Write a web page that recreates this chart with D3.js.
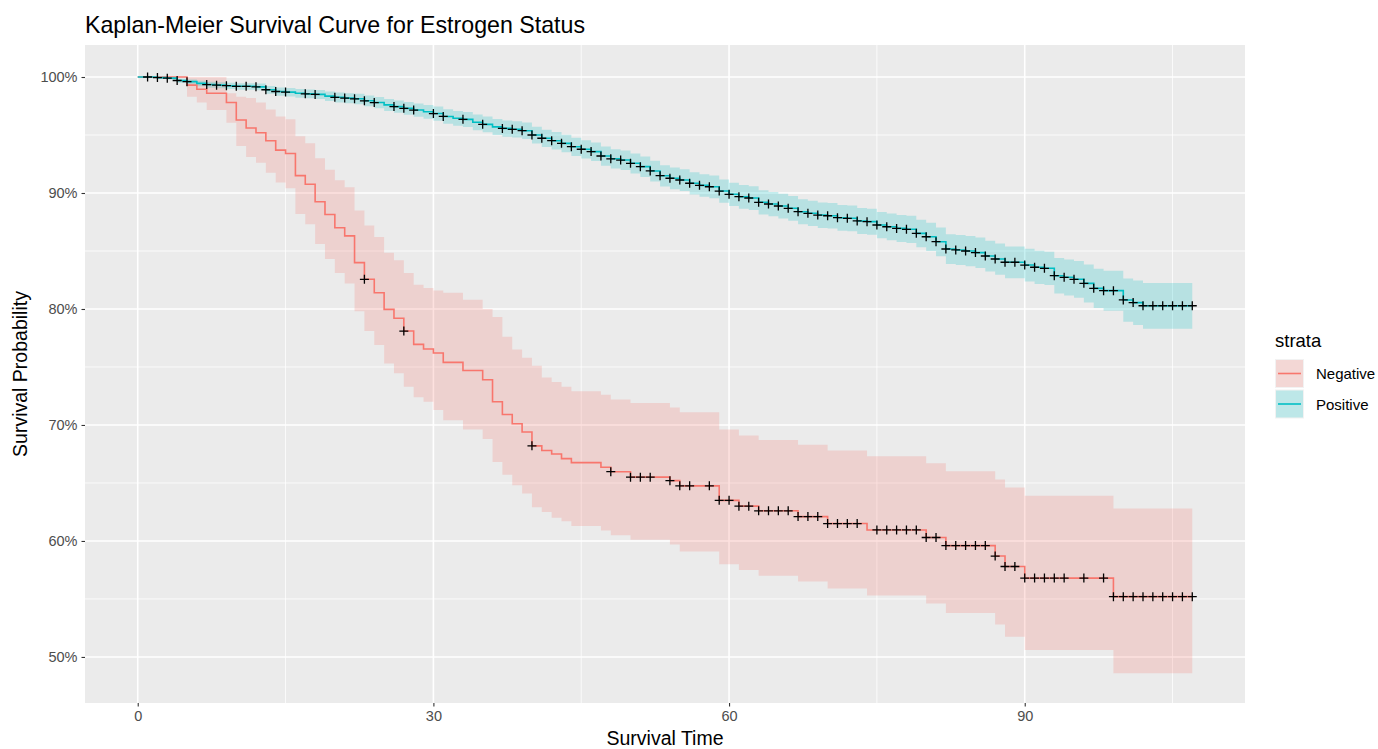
<!DOCTYPE html>
<html>
<head>
<meta charset="utf-8">
<script src="https://cdn.jsdelivr.net/npm/d3@7"></script>
<style>
  body { margin: 0; background: #fff; }
  text { font-family: "Liberation Sans", Arial, Helvetica, sans-serif; }
</style>
</head>
<body>
<div id="chart"></div>
<script>
// Kaplan-Meier survival by estrogen status

// ---- Negative group: step times, survival (%), CI bounds, censor times
var negTime  = [0,5,6,7,9,10,11,12,13,14,15,16,17,18,19,20,21,22,23,24,25,26,27,28,29,30,31,33,35,36,37,38,39,40,41,42,43,44,47,48,50,54,55,59,61,63,67,70,74,80,82,87,88,90,99,107];
var negSurv  = [100,99.3,98.94,98.6,97.8,96.3,95.6,95.2,94.5,93.7,93.4,91.5,90.75,89.25,88.15,87.0,86.3,84.0,82.56,81.4,79.97,79.2,78.1,76.95,76.55,76.2,75.4,74.7,73.9,72.0,70.9,70.1,69.4,68.2,67.8,67.5,67.1,66.75,66.35,65.97,65.5,65.2,64.75,63.5,63.0,62.6,62.1,61.5,60.95,60.3,59.6,58.7,57.8,56.8,55.2,55.2];
var negUpper = [100,100,100,100,98.6,98.3,98.2,97.8,97.2,96.6,96.35,94.9,94.3,93.0,92.0,91.1,90.5,88.5,87.2,86.2,84.85,84.2,83.1,82.1,81.8,81.6,81.4,80.8,80.0,79.3,77.6,76.5,75.8,75.1,74.1,73.7,73.3,72.9,72.6,72.2,71.9,71.5,71.1,69.6,69.1,68.7,68.3,67.8,67.3,66.7,66.0,65.3,64.6,63.9,62.8,62.8];
var negLower = [100,98.3,97.8,97.15,96.06,94.05,93.1,92.6,91.75,90.9,90.4,88.2,87.3,85.6,84.3,83.1,82.2,79.8,78.1,76.9,75.3,74.45,73.3,72.4,72.0,71.3,70.4,69.6,68.8,66.8,65.7,64.8,64.1,62.9,62.5,62.0,61.7,61.3,60.9,60.5,60.1,59.7,59.1,58.0,57.5,57.0,56.5,55.9,55.3,54.6,53.8,52.8,51.75,50.6,48.6,48.6];
var negCensor = [23,27,40,48,50,51,52,54,55,56,58,59,60,61,62,63,64,65,66,67,68,69,70,71,72,73,75,76,77,78,79,80,81,82,83,84,85,86,87,88,89,90,91,92,93,94,96,98,99,100,101,102,103,104,105,106,107];

// ---- Positive group
var posTime  = [0,1,2,3,4,5,6,7,8,9,10,11,12,13,14,15,16,17,18,19,20,21,22,23,24,25,26,27,28,29,30,31,32,33,34,35,36,37,38,39,40,41,42,43,44,45,46,47,48,49,50,51,52,53,54,55,56,57,58,59,60,61,62,63,64,65,66,67,68,69,70,71,72,73,74,75,76,77,78,79,80,81,82,83,84,85,86,87,88,89,90,91,92,93,94,95,96,97,98,99,100,101,102,103,104,105,106,107];
var posSurv  = [100,100,99.95,99.9,99.7,99.6,99.45,99.35,99.3,99.25,
  99.2,99.2,99.15,98.9,98.75,98.7,98.6,98.55,98.5,98.35,
  98.25,98.18,98.12,97.95,97.8,97.6,97.45,97.3,97.15,97.0,
  96.85,96.6,96.45,96.35,96.1,95.92,95.7,95.57,95.49,95.37,
  95.0,94.72,94.51,94.28,93.99,93.77,93.57,93.19,92.95,92.84,
  92.56,92.27,91.9,91.49,91.27,91.12,90.84,90.66,90.54,90.17,
  89.89,89.68,89.57,89.2,89.05,88.88,88.68,88.39,88.25,88.1,
  88.04,87.87,87.82,87.59,87.53,87.24,87.09,86.95,86.87,86.52,
  86.23,85.8,85.17,85.09,85.0,84.86,84.57,84.31,84.03,84.03,
  83.79,83.6,83.51,82.87,82.73,82.56,82.21,81.78,81.58,81.58,
  80.78,80.55,80.28,80.28,80.28,80.28,80.28,80.28];
var posUpper = [100,100,100,99.98,99.85,99.78,99.67,99.59,99.55,99.51,
  99.47,99.47,99.43,99.22,99.09,99.05,98.96,98.92,98.88,98.75,
  98.67,98.61,98.56,98.41,98.28,98.1,97.97,97.84,97.71,97.58,
  97.45,97.22,97.08,96.99,96.76,96.59,96.38,96.26,96.18,96.07,
  95.72,95.45,95.25,95.03,94.76,94.55,94.36,94.0,93.77,93.67,
  93.41,93.14,92.79,92.4,92.19,92.05,91.79,91.62,91.51,91.16,
  90.89,90.69,90.59,90.23,90.09,89.93,89.74,89.46,89.33,89.19,
  89.13,88.97,88.92,88.7,88.65,88.37,88.23,88.1,88.03,87.7,
  87.43,87.03,86.44,86.37,86.29,86.16,85.89,85.65,85.39,85.39,
  85.19,85.02,84.94,84.39,84.27,84.13,83.83,83.46,83.29,83.29,
  82.63,82.45,82.23,82.23,82.23,82.23,82.23,82.23];
var posLower = [100,100,99.85,99.78,99.5,99.38,99.2,99.08,99.03,98.97,
  98.91,98.91,98.85,98.56,98.39,98.33,98.22,98.16,98.1,97.93,
  97.81,97.73,97.66,97.47,97.3,97.08,96.91,96.74,96.57,96.4,
  96.23,95.96,95.8,95.69,95.42,95.23,95.0,94.86,94.78,94.65,
  94.26,93.97,93.75,93.51,93.2,92.97,92.76,92.36,92.11,91.99,
  91.69,91.38,90.99,90.56,90.33,90.17,89.87,89.68,89.55,89.16,
  88.87,88.65,88.53,88.15,87.99,87.81,87.6,87.3,87.15,86.99,
  86.93,86.75,86.7,86.46,86.39,86.09,85.93,85.78,85.69,85.32,
  85.01,84.55,83.88,83.79,83.69,83.54,83.23,82.95,82.65,82.65,
  82.37,82.16,82.06,81.33,81.17,80.97,80.57,80.08,79.85,79.85,
  78.9,78.62,78.3,78.3,78.3,78.3,78.3,78.3];
var posCensor = [1,2,3,4,5,7,8,9,10,11,12,13,14,15,17,18,20,21,22,23,24,26,27,28,30,31,33,35,37,38,39,40,41,42,43,44,45,46,47,48,49,50,51,52,53,54,55,56,57,58,59,60,61,62,63,64,65,66,67,68,69,70,71,72,73,74,75,76,77,78,79,80,81,82,83,84,85,86,87,88,89,90,91,92,93,94,95,96,97,98,99,100,101,102,103,104,105,106,107];

var xTicks = [0, 30, 60, 90];
var xMinor = [15, 45, 75, 105];
var yTicks = [50, 60, 70, 80, 90, 100];
var yMinor = [55, 65, 75, 85, 95];
var groups = ["Negative", "Positive"];
var colors = ["#F8766D", "#00BFC4"];

// layout
var W = 1378, H = 749;
var margin = {top: 45, right: 133, bottom: 46, left: 85},
    width = W - margin.left - margin.right,
    height = H - margin.top - margin.bottom;

var svg = d3.select("#chart").append("svg")
    .attr("width", W)
    .attr("height", H);

var g = svg.append("g")
    .attr("transform", `translate(${margin.left}, ${margin.top})`);

var x = d3.scaleLinear().domain([-5.35, 112.35]).range([0, width]);
var y = d3.scaleLinear().domain([46.03, 102.76]).range([height, 0]);

// panel + grid
g.append("rect").attr("width", width).attr("height", height).attr("fill", "#EBEBEB");

g.selectAll(".xminor").data(xMinor).enter().append("line")
    .attr("x1", d => x(d)).attr("x2", d => x(d))
    .attr("y1", 0).attr("y2", height)
    .attr("stroke", "#fff").attr("stroke-width", 0.8);
g.selectAll(".yminor").data(yMinor).enter().append("line")
    .attr("y1", d => y(d)).attr("y2", d => y(d))
    .attr("x1", 0).attr("x2", width)
    .attr("stroke", "#fff").attr("stroke-width", 0.8);
g.selectAll(".xmajor").data(xTicks).enter().append("line")
    .attr("x1", d => x(d)).attr("x2", d => x(d))
    .attr("y1", 0).attr("y2", height)
    .attr("stroke", "#fff").attr("stroke-width", 1.6);
g.selectAll(".ymajor").data(yTicks).enter().append("line")
    .attr("y1", d => y(d)).attr("y2", d => y(d))
    .attr("x1", 0).attr("x2", width)
    .attr("stroke", "#fff").attr("stroke-width", 1.6);

// build series
function makeSeries(t, s, lo, hi) {
    return t.map(function (d, i) { return {t: d, s: s[i], lo: lo[i], hi: hi[i]}; });
}
var series = [
    makeSeries(negTime, negSurv, negLower, negUpper),
    makeSeries(posTime, posSurv, posLower, posUpper)
];
var censors = [negCensor, posCensor];

var band = d3.area()
    .curve(d3.curveStepAfter)
    .x(d => x(d.t))
    .y0(d => y(d.lo))
    .y1(d => y(d.hi));
var step = d3.line()
    .curve(d3.curveStepAfter)
    .x(d => x(d.t))
    .y(d => y(d.s));

series.forEach(function (data, i) {
    g.append("path").datum(data)
        .attr("d", band)
        .attr("fill", colors[i])
        .attr("fill-opacity", 0.22);
});
series.forEach(function (data, i) {
    g.append("path").datum(data)
        .attr("d", step)
        .attr("fill", "none")
        .attr("stroke", colors[i])
        .attr("stroke-width", 1.6);
});

// censor marks: survival value at each censor time
var bis = d3.bisector(d => d.t).right;
series.forEach(function (data, i) {
    g.selectAll(".cens" + i).data(censors[i]).enter().append("path")
        .attr("transform", function (t) {
            var k = bis(data, t) - 1;
            return `translate(${x(t)}, ${y(data[k].s)})`;
        })
        .attr("d", "M-4.5,0H4.5M0,-4.5V4.5")
        .attr("stroke", "#000")
        .attr("stroke-width", 1.3)
        .attr("fill", "none");
});

// axes
var xAxis = g.append("g")
    .attr("transform", `translate(0, ${height})`)
    .call(d3.axisBottom(x).tickValues(xTicks).tickSize(3.5).tickPadding(4));
var yAxis = g.append("g")
    .call(d3.axisLeft(y).tickValues(yTicks).tickSize(3.5).tickPadding(4).tickFormat(d => d + "%"));
[xAxis, yAxis].forEach(function (a) {
    a.select(".domain").remove();
    a.selectAll(".tick line").attr("stroke", "#333333").attr("stroke-width", 1.1);
    a.selectAll(".tick text").attr("fill", "#4D4D4D").style("font-size", "14.5px")
        .style("font-family", "'Liberation Sans', Arial, sans-serif");
});

// titles
svg.append("text")
    .attr("x", margin.left).attr("y", 33)
    .text("Kaplan-Meier Survival Curve for Estrogen Status")
    .style("font-size", "23.2px").attr("fill", "#000");
svg.append("text")
    .attr("x", margin.left + width / 2).attr("y", 745)
    .attr("text-anchor", "middle")
    .text("Survival Time")
    .style("font-size", "19.5px").attr("fill", "#000");
svg.append("text")
    .attr("transform", `translate(27, ${margin.top + height / 2}) rotate(-90)`)
    .attr("text-anchor", "middle")
    .text("Survival Probability")
    .style("font-size", "19.5px").attr("fill", "#000");

// legend
var lg = svg.append("g").attr("transform", "translate(1275, 0)");
lg.append("text").attr("x", 0).attr("y", 347).text("strata")
    .style("font-size", "18.5px").attr("fill", "#000");
groups.forEach(function (name, i) {
    var top = 359 + i * 30.5;
    lg.append("rect").attr("x", 0).attr("y", top).attr("width", 29).attr("height", 29)
        .attr("fill", "#F2F2F2");
    lg.append("rect").attr("x", 1).attr("y", top + 1).attr("width", 27).attr("height", 27)
        .attr("fill", colors[i]).attr("fill-opacity", 0.22);
    lg.append("line").attr("x1", 3).attr("x2", 26)
        .attr("y1", top + 14.5).attr("y2", top + 14.5)
        .attr("stroke", colors[i]).attr("stroke-width", 1.6);
    lg.append("text").attr("x", 41).attr("y", top + 14.5)
        .attr("dominant-baseline", "central")
        .text(name).style("font-size", "15px").attr("fill", "#000");
});
</script>
</body>
</html>
